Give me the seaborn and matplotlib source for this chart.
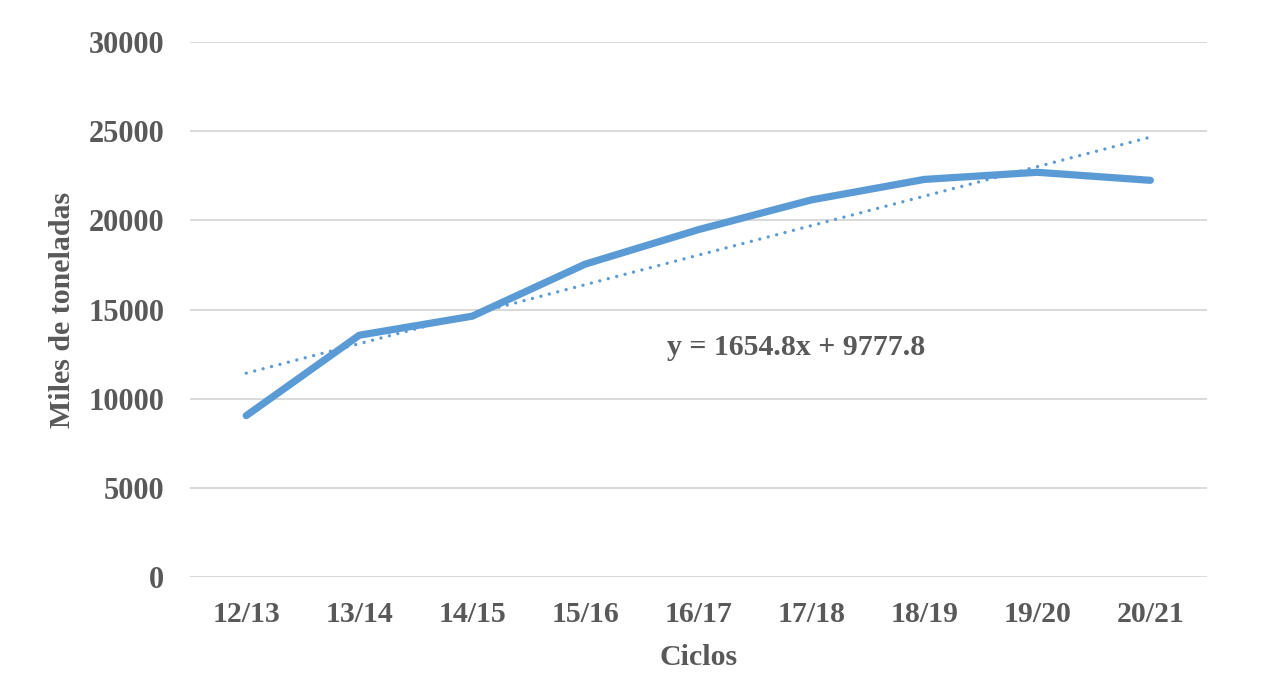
import numpy as np
import pandas as pd
import matplotlib
matplotlib.use("Agg")
import matplotlib.pyplot as plt
import seaborn as sns

ciclos = ["12/13", "13/14", "14/15", "15/16", "16/17", "17/18", "18/19", "19/20", "20/21"]
produccion = [9050, 13560, 14630, 17550, 19480, 21150, 22300, 22700, 22250]
trend_slope = 1654.8
trend_intercept = 9777.8
equation_label = "y = 1654.8x + 9777.8"
y_ticks = [0, 5000, 10000, 15000, 20000, 25000, 30000]

sns.set_theme(style="white")
plt.rcParams['font.family'] = ['Liberation Serif', 'DejaVu Serif']

text_color = "#595959"
line_color = "#5B9BD5"

df = pd.DataFrame({"idx": np.arange(len(ciclos)), "ciclo": ciclos, "valor": produccion})
trend_x = np.arange(len(ciclos))
trend_df = pd.DataFrame({"idx": trend_x, "valor": trend_slope * (trend_x + 1) + trend_intercept})

fig = plt.figure(figsize=(12.65, 6.91), dpi=100)
ax = fig.add_axes([0.150, 0.165, 0.804, 0.774])

sns.lineplot(data=df, x="idx", y="valor", ax=ax, color=line_color, linewidth=5.2,
             solid_capstyle="round", solid_joinstyle="round", zorder=3)
sns.lineplot(data=trend_df, x="idx", y="valor", ax=ax, color=line_color, linewidth=2.4,
             linestyle=(0, (0.01, 2.6)), dash_capstyle="round", zorder=2)

ax.set_xlim(-0.5, len(ciclos) - 0.5)
ax.set_ylim(0, 30000)
ax.set_yticks(y_ticks)
ax.set_yticklabels([str(t) for t in y_ticks])
ax.set_xticks(np.arange(len(ciclos)))
ax.set_xticklabels(ciclos)

ax.grid(axis="y", color="#D9D9D9", linewidth=1.4)
ax.grid(axis="x", visible=False)
ax.set_axisbelow(True)
for s in ax.spines.values():
    s.set_visible(False)

ax.tick_params(axis="x", length=0, labelsize=21.5, labelcolor=text_color, pad=17)
ax.tick_params(axis="y", length=0, labelsize=22, labelcolor=text_color, pad=18.5)
for lbl in ax.get_xticklabels() + ax.get_yticklabels():
    lbl.set_fontweight("bold")

ax.set_xlabel("Ciclos", fontsize=21.5, fontweight="bold", color=text_color, labelpad=12)
ax.set_ylabel("Miles de toneladas", fontsize=21.5, fontweight="bold", color=text_color, labelpad=9)

ax.text(4.87, 12900, equation_label, fontsize=21.5, fontweight="bold", color=text_color,
        ha="center", va="center")

fig.savefig("out.png", dpi=100)
